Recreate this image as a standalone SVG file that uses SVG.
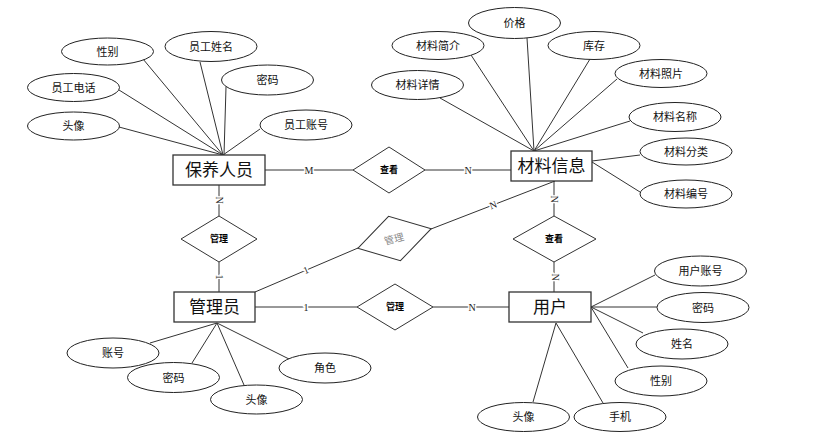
<svg xmlns="http://www.w3.org/2000/svg" width="820" height="441" viewBox="0 0 820 441">
<style>
.bg{fill:#fff}
.ent rect{fill:#fff;stroke:#333;stroke-width:1.3}
.ent text{font-family:"Liberation Sans","Noto Sans CJK SC",sans-serif;font-size:17px;fill:#111;text-anchor:middle;dominant-baseline:central}
.rel polygon{fill:#fff;stroke:#333;stroke-width:1}
.rel text{font-family:"Liberation Sans","Noto Sans CJK SC",sans-serif;font-size:9px;font-weight:bold;fill:#000;text-anchor:middle;dominant-baseline:central}
.rel text.gray{fill:#888;font-weight:normal;font-size:10px}
.attr ellipse{fill:#fff;stroke:#222;stroke-width:1}
.attr text{font-family:"Liberation Sans","Noto Sans CJK SC",sans-serif;font-size:11px;fill:#111;text-anchor:middle;dominant-baseline:central}
.conn line{stroke:#333;stroke-width:1;fill:none}
.card{font-family:"Liberation Serif","Noto Sans CJK SC",serif;font-size:10px;fill:#222;text-anchor:middle;dominant-baseline:central;stroke:#fff;stroke-width:3;paint-order:stroke}
</style>
<rect class="bg" x="0" y="0" width="820" height="441"/>
<g id="connectors" class="conn">
<!-- 保养人员 attributes -->
<line x1="143" y1="59" x2="223" y2="155"/>
<line x1="200" y1="62" x2="223" y2="155"/>
<line x1="226" y1="87" x2="224" y2="155"/>
<line x1="119" y1="90" x2="223" y2="155"/>
<line x1="119" y1="127" x2="223" y2="155"/>
<line x1="260" y1="129" x2="223" y2="155"/>
<!-- 材料信息 attributes -->
<line x1="527" y1="38" x2="534" y2="151"/>
<line x1="471" y1="55" x2="534" y2="151"/>
<line x1="590" y1="59" x2="534" y2="151"/>
<line x1="617" y1="79" x2="534" y2="151"/>
<line x1="440" y1="98" x2="534" y2="151"/>
<line x1="630" y1="121" x2="534" y2="151"/>
<line x1="640" y1="155" x2="592" y2="161"/>
<line x1="640" y1="192" x2="592" y2="162"/>
<!-- 管理员 attributes -->
<line x1="150" y1="343" x2="217" y2="323"/>
<line x1="192" y1="363" x2="217" y2="323"/>
<line x1="244" y1="385" x2="217" y2="323"/>
<line x1="289" y1="359" x2="217" y2="323"/>
<!-- 用户 attributes -->
<line x1="655" y1="275" x2="591" y2="307"/>
<line x1="657" y1="307" x2="591" y2="307"/>
<line x1="643" y1="333" x2="591" y2="307"/>
<line x1="628" y1="368" x2="591" y2="307"/>
<line x1="533" y1="402" x2="556" y2="323"/>
<line x1="603" y1="403" x2="556" y2="323"/>
<!-- relationships -->
<line x1="265" y1="170" x2="353" y2="170"/>
<line x1="425" y1="170" x2="511" y2="170"/>
<line x1="219" y1="185" x2="219" y2="216"/>
<line x1="219" y1="262" x2="219" y2="292"/>
<line x1="255" y1="307" x2="357" y2="307"/>
<line x1="433" y1="307" x2="509" y2="307"/>
<line x1="554" y1="181" x2="554" y2="216"/>
<line x1="554" y1="262" x2="554" y2="292"/>
<line x1="255" y1="292" x2="358" y2="248"/>
<line x1="431" y1="229" x2="555" y2="181"/>
</g>
<g id="cardinalities">
<text class="card" x="309" y="170">M</text>
<text class="card" x="468" y="170">N</text>
<text class="card" transform="translate(219,200) rotate(90)">N</text>
<text class="card" transform="translate(219,277) rotate(90)">1</text>
<text class="card" x="306" y="307">1</text>
<text class="card" x="472" y="307">N</text>
<text class="card" transform="translate(554,199) rotate(90)">N</text>
<text class="card" transform="translate(555,277) rotate(90)">N</text>
<text class="card" transform="translate(306,270) rotate(-23)">1</text>
<text class="card" transform="translate(493,205) rotate(-21)">N</text>
</g>
<g id="rel-view1" class="rel">
<polygon points="353,170 389,147 425,170 389,193"/>
<text x="389" y="170">查看</text>
</g>
<g id="rel-manage1" class="rel">
<polygon points="181,239 219,216 257,239 219,262"/>
<text x="219" y="239">管理</text>
</g>
<g id="rel-view2" class="rel">
<polygon points="513,239 554,216 596,239 554,262"/>
<text x="554" y="239">查看</text>
</g>
<g id="rel-manage2" class="rel">
<polygon points="357,307 395,284 433,307 395,330"/>
<text x="395" y="307">管理</text>
</g>
<g id="rel-manage3" class="rel">
<polygon transform="translate(394.5,238.5) rotate(-15)" points="-38,0 0,-23 38,0 0,23"/>
<text class="gray" transform="translate(394,239) rotate(-15)">管理</text>
</g>
<g id="ent-baoyang" class="ent">
<rect x="173" y="155" width="92" height="30"/>
<text x="219" y="170">保养人员</text>
</g>
<g id="ent-cailiao" class="ent">
<rect x="511" y="151" width="81" height="30"/>
<text x="551.5" y="166">材料信息</text>
</g>
<g id="ent-guanli" class="ent">
<rect x="174" y="292" width="81" height="30"/>
<text x="214.5" y="307">管理员</text>
</g>
<g id="ent-yonghu" class="ent">
<rect x="509" y="292" width="82" height="30"/>
<text x="550" y="307">用户</text>
</g>
<g id="attr-b-xingbie" class="attr"><ellipse cx="107.5" cy="51.5" rx="46" ry="13.5"/><text x="107.5" y="51.5">性别</text></g>
<g id="attr-b-xingming" class="attr"><ellipse cx="211" cy="46.5" rx="46" ry="15"/><text x="211" y="46.5">员工姓名</text></g>
<g id="attr-b-mima" class="attr"><ellipse cx="267.5" cy="80" rx="46" ry="15"/><text x="267.5" y="80">密码</text></g>
<g id="attr-b-dianhua" class="attr"><ellipse cx="73.5" cy="87.5" rx="46" ry="14"/><text x="73.5" y="87.5">员工电话</text></g>
<g id="attr-b-touxiang" class="attr"><ellipse cx="73.5" cy="126" rx="46" ry="14"/><text x="73.5" y="126">头像</text></g>
<g id="attr-b-zhanghao" class="attr"><ellipse cx="306" cy="125" rx="46" ry="15"/><text x="306" y="125">员工账号</text></g>
<g id="attr-c-jiage" class="attr"><ellipse cx="514.5" cy="23" rx="46" ry="15.5"/><text x="514.5" y="23">价格</text></g>
<g id="attr-c-jianjie" class="attr"><ellipse cx="438" cy="45.5" rx="46" ry="14"/><text x="438" y="45.5">材料简介</text></g>
<g id="attr-c-kucun" class="attr"><ellipse cx="594" cy="45.5" rx="46" ry="14"/><text x="594" y="45.5">库存</text></g>
<g id="attr-c-zhaopian" class="attr"><ellipse cx="661" cy="73.5" rx="46" ry="14"/><text x="661" y="73.5">材料照片</text></g>
<g id="attr-c-xiangqing" class="attr"><ellipse cx="417.5" cy="85" rx="46" ry="14.5"/><text x="417.5" y="85">材料详情</text></g>
<g id="attr-c-mingcheng" class="attr"><ellipse cx="675" cy="117" rx="46" ry="14.5"/><text x="675" y="117">材料名称</text></g>
<g id="attr-c-fenlei" class="attr"><ellipse cx="686" cy="151.5" rx="46" ry="13.5"/><text x="686" y="151.5">材料分类</text></g>
<g id="attr-c-bianhao" class="attr"><ellipse cx="686" cy="194" rx="46" ry="14"/><text x="686" y="194">材料编号</text></g>
<g id="attr-g-zhanghao" class="attr"><ellipse cx="113" cy="353" rx="46" ry="15"/><text x="113" y="353">账号</text></g>
<g id="attr-g-mima" class="attr"><ellipse cx="173.5" cy="377.5" rx="46" ry="15"/><text x="173.5" y="377.5">密码</text></g>
<g id="attr-g-touxiang" class="attr"><ellipse cx="256.5" cy="399.5" rx="46" ry="14.5"/><text x="256.5" y="399.5">头像</text></g>
<g id="attr-g-juese" class="attr"><ellipse cx="325" cy="368" rx="46" ry="15"/><text x="325" y="368">角色</text></g>
<g id="attr-y-zhanghao" class="attr"><ellipse cx="700.5" cy="271" rx="46" ry="15"/><text x="700.5" y="271">用户账号</text></g>
<g id="attr-y-mima" class="attr"><ellipse cx="703" cy="307.5" rx="46" ry="15"/><text x="703" y="307.5">密码</text></g>
<g id="attr-y-xingming" class="attr"><ellipse cx="682" cy="344" rx="46" ry="15"/><text x="682" y="344">姓名</text></g>
<g id="attr-y-xingbie" class="attr"><ellipse cx="661" cy="381" rx="46" ry="15"/><text x="661" y="381">性别</text></g>
<g id="attr-y-touxiang" class="attr"><ellipse cx="523.5" cy="417" rx="46" ry="14.5"/><text x="523.5" y="417">头像</text></g>
<g id="attr-y-shouji" class="attr"><ellipse cx="620" cy="417" rx="46" ry="14.5"/><text x="620" y="417">手机</text></g>
</svg>
